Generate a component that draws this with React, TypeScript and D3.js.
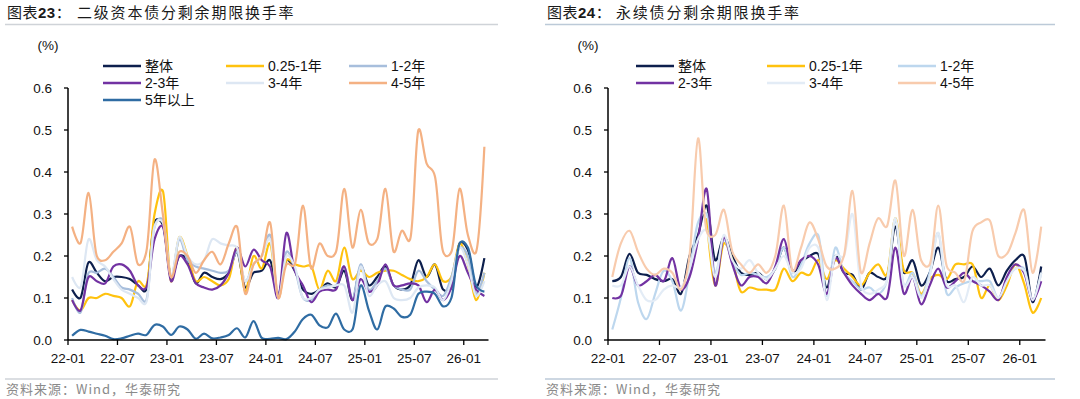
import React from 'react';
import * as d3 from 'd3';

// ---------- shared axis data ----------
const tickLabels = ['22-01', '22-07', '23-01', '23-07', '24-01', '24-07', '25-01', '25-07', '26-01'];
const tickMonths = [0, 6, 12, 18, 24, 30, 36, 42, 48];
const yTicks = [0, 0.1, 0.2, 0.3, 0.4, 0.5, 0.6];
// month index of each observation (2022-01 .. 2026-03), plotted mid-month
const obsMonths = [
  0, 1, 2, 3, 4, 5, 6, 7, 8, 9, 10, 11, 12, 13, 14, 15, 16, 17, 18, 19, 20, 21, 22, 23, 24,
  25, 26, 27, 28, 29, 30, 31, 32, 33, 34, 35, 36, 37, 38, 39, 40, 41, 42, 43, 44, 45, 46, 47, 48, 49, 50,
];

// ---------- chart 23: 二级资本债 ----------
const t2All = [0.12, 0.1, 0.185, 0.16, 0.14, 0.15, 0.15, 0.145, 0.13, 0.12, 0.28, 0.275, 0.15, 0.2, 0.19, 0.135, 0.16, 0.15, 0.145, 0.16, 0.21, 0.125, 0.16, 0.165, 0.19, 0.11, 0.19, 0.165, 0.12, 0.11, 0.12, 0.135, 0.125, 0.165, 0.095, 0.175, 0.13, 0.15, 0.175, 0.13, 0.12, 0.13, 0.19, 0.15, 0.18, 0.12, 0.125, 0.23, 0.215, 0.125, 0.195];
const t2Y025 = [0.095, 0.07, 0.1, 0.1, 0.11, 0.105, 0.1, 0.08, 0.14, 0.13, 0.3, 0.355, 0.14, 0.245, 0.2, 0.14, 0.15, 0.14, 0.13, 0.145, 0.22, 0.115, 0.2, 0.17, 0.23, 0.1, 0.19, 0.18, 0.175, 0.175, 0.12, 0.165, 0.14, 0.22, 0.145, 0.165, 0.15, 0.16, 0.165, 0.165, 0.155, 0.145, 0.14, 0.15, 0.18, 0.14, 0.15, 0.23, 0.18, 0.095, 0.16];
const t2Y12 = [0.1, 0.065, 0.16, 0.16, 0.17, 0.15, 0.125, 0.12, 0.11, 0.095, 0.27, 0.285, 0.15, 0.24, 0.19, 0.175, 0.17, 0.165, 0.16, 0.165, 0.21, 0.14, 0.18, 0.2, 0.25, 0.105, 0.21, 0.17, 0.1, 0.095, 0.12, 0.13, 0.13, 0.175, 0.1, 0.18, 0.12, 0.14, 0.17, 0.13, 0.12, 0.12, 0.165, 0.14, 0.12, 0.105, 0.15, 0.22, 0.2, 0.11, 0.16];
const t2Y23 = [0.095, 0.07, 0.15, 0.14, 0.135, 0.175, 0.18, 0.165, 0.13, 0.125, 0.24, 0.27, 0.14, 0.2, 0.18, 0.135, 0.125, 0.12, 0.13, 0.16, 0.22, 0.175, 0.215, 0.19, 0.175, 0.1, 0.255, 0.165, 0.13, 0.09, 0.115, 0.12, 0.12, 0.175, 0.095, 0.145, 0.115, 0.13, 0.18, 0.13, 0.13, 0.135, 0.13, 0.09, 0.12, 0.095, 0.125, 0.2, 0.16, 0.12, 0.105];
const t2Y34 = [0.15, 0.125, 0.24, 0.19, 0.175, 0.145, 0.12, 0.11, 0.1, 0.09, 0.27, 0.28, 0.15, 0.245, 0.2, 0.18, 0.19, 0.24, 0.23, 0.225, 0.22, 0.14, 0.18, 0.2, 0.24, 0.1, 0.2, 0.175, 0.1, 0.1, 0.12, 0.125, 0.13, 0.13, 0.065, 0.175, 0.105, 0.13, 0.14, 0.1, 0.095, 0.1, 0.125, 0.13, 0.125, 0.095, 0.14, 0.22, 0.18, 0.105, 0.14];
const t2Y45 = [0.27, 0.23, 0.35, 0.2, 0.19, 0.21, 0.23, 0.27, 0.18, 0.21, 0.43, 0.3, 0.15, 0.21, 0.2, 0.16, 0.19, 0.21, 0.18, 0.23, 0.27, 0.11, 0.18, 0.2, 0.28, 0.1, 0.18, 0.18, 0.32, 0.17, 0.23, 0.2, 0.21, 0.36, 0.22, 0.31, 0.23, 0.24, 0.36, 0.21, 0.26, 0.24, 0.5, 0.42, 0.39, 0.21, 0.21, 0.36, 0.25, 0.21, 0.46];
const t2Y5p = [0.01, 0.024, 0.02, 0.015, 0.01, 0.002, 0.004, 0.01, 0.015, 0.012, 0.036, 0.032, 0.012, 0.032, 0.025, 0.003, 0.015, 0.004, 0.006, 0.012, 0.028, 0.006, 0.045, 0.005, 0.003, 0.005, 0.002, 0.02, 0.05, 0.06, 0.035, 0.03, 0.063, 0.025, 0.025, 0.13, 0.07, 0.025, 0.08, 0.075, 0.055, 0.06, 0.11, 0.115, 0.11, 0.08, 0.1, 0.23, 0.22, 0.13, 0.115];

// ---------- chart 24: 永续债 ----------
const pAll = [0.14, 0.15, 0.205, 0.16, 0.155, 0.145, 0.14, 0.145, 0.11, 0.2, 0.25, 0.32, 0.19, 0.245, 0.2, 0.16, 0.155, 0.16, 0.145, 0.17, 0.22, 0.16, 0.185, 0.2, 0.205, 0.125, 0.2, 0.16, 0.155, 0.12, 0.16, 0.15, 0.15, 0.27, 0.16, 0.19, 0.13, 0.16, 0.22, 0.14, 0.145, 0.15, 0.175, 0.15, 0.17, 0.13, 0.165, 0.19, 0.2, 0.09, 0.175];
const pY025 = [null, null, null, null, null, null, null, null, null, null, null, 0.29, 0.13, 0.23, 0.19, 0.115, 0.125, 0.12, 0.12, 0.12, 0.17, 0.14, 0.16, 0.155, 0.19, 0.145, 0.19, 0.17, 0.15, 0.13, 0.16, 0.18, 0.155, 0.29, 0.165, 0.16, 0.11, 0.145, 0.155, 0.145, 0.18, 0.18, 0.18, 0.1, 0.13, 0.095, 0.13, 0.18, 0.135, 0.065, 0.1];
const pY12 = [0.025, 0.1, 0.195, 0.09, 0.05, 0.11, 0.165, 0.14, 0.07, 0.16, 0.28, 0.3, 0.16, 0.24, 0.185, 0.155, 0.16, 0.155, 0.15, 0.17, 0.22, 0.15, 0.18, 0.23, 0.25, 0.105, 0.22, 0.16, 0.14, 0.12, 0.125, 0.11, 0.14, 0.285, 0.13, 0.16, 0.105, 0.16, 0.255, 0.11, 0.125, 0.135, 0.14, 0.14, 0.14, 0.1, 0.145, 0.17, 0.17, 0.095, 0.16];
const pY23 = [0.1, 0.105, 0.175, 0.13, 0.14, 0.155, 0.14, 0.195, 0.12, 0.15, 0.24, 0.36, 0.13, 0.245, 0.18, 0.13, 0.15, 0.15, 0.135, 0.175, 0.24, 0.165, 0.19, 0.2, 0.18, 0.11, 0.195, 0.16, 0.13, 0.11, 0.095, 0.11, 0.1, 0.22, 0.11, 0.15, 0.085, 0.13, 0.17, 0.125, 0.14, 0.16, 0.14, 0.13, 0.115, 0.095, 0.15, 0.18, 0.16, 0.095, 0.14];
const pY34 = [0.13, 0.13, 0.175, 0.13, 0.095, 0.095, 0.12, 0.13, 0.125, 0.17, 0.24, 0.26, 0.15, 0.25, 0.19, 0.17, 0.19, 0.16, 0.145, 0.17, 0.2, 0.16, 0.17, 0.22, 0.22, 0.095, 0.2, 0.2, 0.3, 0.13, 0.11, 0.12, 0.14, 0.29, 0.13, 0.15, 0.1, 0.15, 0.255, 0.13, 0.13, 0.09, 0.15, 0.13, 0.13, 0.1, 0.14, 0.17, 0.165, 0.095, 0.16];
const pY45 = [0.15, 0.23, 0.26, 0.21, 0.17, 0.155, 0.17, 0.16, 0.12, 0.2, 0.48, 0.26, 0.25, 0.31, 0.21, 0.18, 0.16, 0.18, 0.16, 0.2, 0.32, 0.165, 0.22, 0.28, 0.24, 0.175, 0.17, 0.2, 0.355, 0.16, 0.23, 0.29, 0.27, 0.38, 0.2, 0.31, 0.19, 0.18, 0.32, 0.175, 0.16, 0.14, 0.26, 0.28, 0.285, 0.2, 0.205, 0.255, 0.31, 0.16, 0.27];

const namesL = ['整体', '0.25-1年', '1-2年', '2-3年', '3-4年', '4-5年', '5年以上'];
const namesR = ['整体', '0.25-1年', '1-2年', '2-3年', '3-4年', '4-5年'];
const colorsL = ['#0d1f4d', '#ffc20e', '#a7bedc', '#7232a2', '#dde7f3', '#f4b183', '#2f6ca3'];
const colorsR = ['#0d1f4d', '#ffc20e', '#bdd7ee', '#7232a2', '#e3ecf6', '#f8cbad'];

type Series = { name: string; color: string; values: (number | null)[] };

const seriesL: Series[] = [t2All, t2Y025, t2Y12, t2Y23, t2Y34, t2Y45, t2Y5p].map((v, i) => ({
  name: namesL[i], color: colorsL[i], values: v,
}));
const seriesR: Series[] = [pAll, pY025, pY12, pY23, pY34, pY45].map((v, i) => ({
  name: namesR[i], color: colorsR[i], values: v,
}));

const FONT = '"Liberation Sans", Arial, "Noto Sans CJK SC", sans-serif';
const CJK = '"Noto Sans CJK SC", "Liberation Sans", sans-serif';

type PanelProps = {
  ox: number;
  num: string;
  title: string;
  titleX: number;
  axisX: number;
  axisEnd: number;
  series: Series[];
  legendCols: number[];
  ruleEnd: number;
  ruleColor: string;
};

function Panel(p: PanelProps) {
  const x = d3.scaleLinear().domain([0, 51]).range([p.axisX, p.axisEnd]);
  const y = d3.scaleLinear().domain([0, 0.6]).range([340, 88]);
  const line = d3
    .line<[number, number | null]>()
    .defined((d) => d[1] != null)
    .x((d) => x(d[0] + 0.5))
    .y((d) => y(d[1] as number))
    .curve(d3.curveCatmullRom.alpha(0.2));
  const legendRows = [66, 83, 100];
  return (
    <g>
      <text x={p.ox + 7} y={18} fontFamily={CJK} fontSize={15} fill="#1a1a1a" letterSpacing={0.5}>
        图表<tspan fontFamily={FONT} fontWeight="bold">{p.num}</tspan>：
      </text>
      <text x={p.titleX} y={18} fontFamily={CJK} fontSize={15} fill="#1a1a1a" letterSpacing={1.8}>
        {p.title}
      </text>
      <line x1={p.ox + 5} x2={p.ruleEnd} y1={24.5} y2={24.5} stroke={p.ruleColor} strokeWidth={1.6} />

      <text x={p.axisX - 20} y={50} textAnchor="middle" fontFamily={FONT} fontSize={13.5} fill="#111">(%)</text>

      {p.series.map((s, i) => {
        const cx = p.legendCols[i % 3];
        const cy = legendRows[Math.floor(i / 3)];
        return (
          <g key={'lg' + i}>
            <line x1={cx} x2={cx + 38} y1={cy} y2={cy} stroke={s.color} strokeWidth={2.6} />
            <text x={cx + 42} y={cy + 5} fontFamily={FONT} fontSize={14} fill="#111">{s.name}</text>
          </g>
        );
      })}

      {yTicks.map((t) => (
        <g key={'yt' + t}>
          <line x1={p.axisX - 4} x2={p.axisX} y1={y(t)} y2={y(t)} stroke="#000" strokeWidth={1.3} />
          <text x={p.axisX - 16} y={y(t) + 5} textAnchor="end" fontFamily={FONT} fontSize={13.5} fill="#111">
            {t.toFixed(1)}
          </text>
        </g>
      ))}
      {tickMonths.map((m, i) => (
        <g key={'xt' + m}>
          <line x1={x(m)} x2={x(m)} y1={340} y2={345} stroke="#000" strokeWidth={1.3} />
          <text x={x(m)} y={363} textAnchor="middle" fontFamily={FONT} fontSize={13.5} fill="#111">
            {tickLabels[i]}
          </text>
        </g>
      ))}

      {p.series.map((s, i) => (
        <path
          key={'s' + i}
          d={line(obsMonths.map((m, k) => [m, s.values[k]] as [number, number | null])) || ''}
          fill="none"
          stroke={s.color}
          strokeWidth={2.2}
          strokeLinejoin="round"
        />
      ))}

      <line x1={p.axisX} x2={p.axisX} y1={y(0.6)} y2={340} stroke="#000" strokeWidth={1.5} />
      <line x1={p.axisX} x2={p.axisEnd} y1={340} y2={340} stroke="#000" strokeWidth={1.5} />

      <line x1={p.ox + 5} x2={p.ruleEnd} y1={379} y2={379} stroke={p.ruleColor} strokeWidth={1.6} />
      <text x={p.ox + 6} y={394} fontFamily={CJK} fontSize={13} fill="#8a8a8a" letterSpacing={1}>
        资料来源：Wind，华泰研究
      </text>
    </g>
  );
}

export default function App() {
  return (
    <div style={{ position: 'absolute', left: 0, top: 0, width: 1080, height: 399, background: '#fff' }}>
      <svg width={1080} height={399} viewBox="0 0 1080 399" style={{ display: 'block' }}>
        <rect width={1080} height={399} fill="#fff" />
        <Panel
          ox={0}
          num="23"
          title="二级资本债分剩余期限换手率"
          titleX={77}
          axisX={68}
          axisEnd={488.5}
          series={seriesL}
          legendCols={[103, 226, 349]}
          ruleEnd={498}
          ruleColor="#cfd3d8"
        />
        <Panel
          ox={540}
          num="24"
          title="永续债分剩余期限换手率"
          titleX={616}
          axisX={608}
          axisEnd={1045.5}
          series={seriesR}
          legendCols={[636, 767, 898]}
          ruleEnd={1055}
          ruleColor="#bccad8"
        />
      </svg>
    </div>
  );
}
